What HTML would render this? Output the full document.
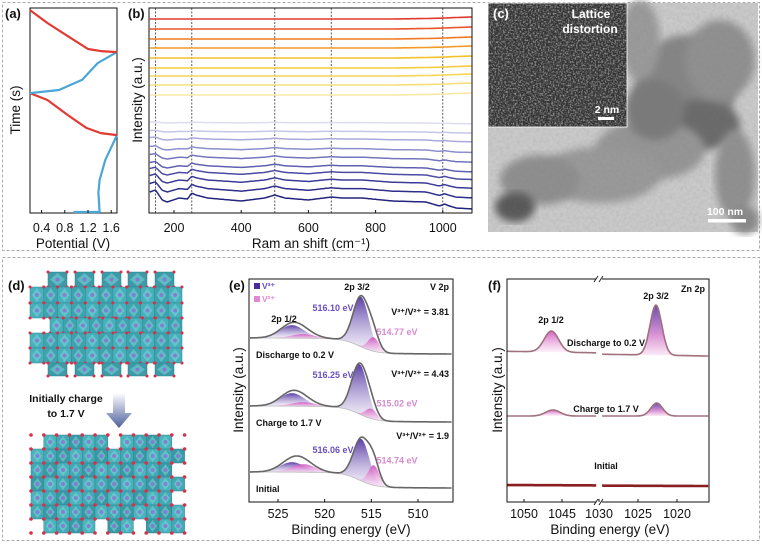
<!DOCTYPE html>
<html><head><meta charset="utf-8">
<style>
html,body{margin:0;padding:0;background:#fff;}
body{width:762px;height:543px;overflow:hidden;font-family:"Liberation Sans",Arial,sans-serif;}
svg text{font-family:"Liberation Sans",Arial,sans-serif;}
</style></head>
<body>
<svg id="fig" width="762" height="543" viewBox="0 0 762 543" xmlns="http://www.w3.org/2000/svg">
<defs>
<linearGradient id="gPurple" x1="0" y1="0" x2="0" y2="1"><stop offset="0" stop-color="#4a2b9c"/><stop offset="1" stop-color="#f3eefa" stop-opacity="0.6"/></linearGradient>
<linearGradient id="gPink" x1="0" y1="0" x2="0" y2="1"><stop offset="0" stop-color="#d04fbe"/><stop offset="1" stop-color="#fbe6f6" stop-opacity="0.6"/></linearGradient>
<linearGradient id="gZn" x1="0" y1="0" x2="0" y2="1"><stop offset="0" stop-color="#5a3ca8"/><stop offset="0.6" stop-color="#d78ad0"/><stop offset="1" stop-color="#fbe9f6"/></linearGradient>
<linearGradient id="gArrow" x1="0" y1="0" x2="0" y2="1"><stop offset="0" stop-color="#ffffff"/><stop offset="1" stop-color="#4d5f9c"/></linearGradient>
<filter id="noiseIn" x="0" y="0" width="100%" height="100%"><feTurbulence type="fractalNoise" baseFrequency="0.6" numOctaves="2" seed="3"/><feColorMatrix type="matrix" values="0 0 0 0 0.85  0 0 0 0 0.85  0 0 0 0 0.85  1.8 0 0 0 -0.75"/></filter>
<filter id="blur3"><feGaussianBlur stdDeviation="4"/></filter>
<filter id="grain" x="0" y="0" width="100%" height="100%"><feTurbulence type="fractalNoise" baseFrequency="0.3" numOctaves="2" seed="7"/><feColorMatrix type="matrix" values="0 0 0 0 0.2  0 0 0 0 0.2  0 0 0 0 0.2  1.2 0 0 0 -0.45"/></filter>
</defs>
<rect x="2.5" y="2.5" width="757" height="248" fill="none" stroke="#aaa" stroke-dasharray="3,2"/>
<rect x="2.5" y="257.5" width="757" height="283" fill="none" stroke="#aaa" stroke-dasharray="3,2"/>
<g id="root"></g>
</svg>
<script>
// ---------- Panel (a) data: galvanostatic profile ----------
const aPot1 = [0.95, 1.40, 1.38, 1.40, 1.50, 1.70];
const aTime1 = [5, 5, 100, 161, 260, 380];
const aPot2 = [1.70, 1.42, 1.17, 0.85, 0.50, 0.20];
const aTime2 = [380, 390, 415, 478, 551, 585];
const aPot3 = [0.20, 0.70, 1.10, 1.37, 1.70];
const aTime3 = [585, 600, 650, 732, 785];
const aPot4 = [1.70, 1.42, 1.20, 0.85, 0.50, 0.20];
const aTime4 = [785, 790, 800, 863, 927, 990];
const aTicks = [0.4, 0.8, 1.2, 1.6];

// ---------- Panel (b) data: Raman spectra ----------
const ramanX = [128, 145, 165, 180, 215, 240, 253, 265, 300, 400, 470, 500, 530, 600, 668, 700, 760, 850, 950, 990, 1005, 1020, 1040, 1090];
const bottomProfile = [10, 12, 2, 0, 4, 3, 9, 7, 4, 1, 4, 7, 4, 2, 5, 4, 4, 1, 0, -4, -2, -4, -6, -7];
const warmProfile = [0, 0, 0, 0, 0, 0, 0, 0, 0, 0, 0, 0, 0, 0, 0, 0, 0, 0, 0.5, 0.8, 1, 1.2, 1.5, 2];
const warmOffsets = [196, 186, 176, 167, 157, 147, 139, 130, 120];
const warmColors = ["#e03a2f", "#e8552a", "#ef7a25", "#f29a2a", "#f5c02e", "#f5cc40", "#f6d658", "#f7df78", "#f8e9a6"];
const blueOffsets = [92, 83, 75, 65, 56, 47, 40, 32, 23, 13];
const blueScales = [0.1, 0.15, 0.25, 0.35, 0.45, 0.55, 0.65, 0.75, 0.85, 1.0];
const blueColors = ["#dcdcf2", "#c6c6ea", "#a9a9dc", "#8e8ecd", "#7575be", "#6060b1", "#4b4ba4", "#3b3b97", "#2f2f8b", "#24247e"];
const ramanLines = [145, 253, 500, 668, 1000];
const bTicks = [200, 400, 600, 800, 1000];

// ---------- Panel (e) data: V 2p XPS ----------
const eLabels = ["Discharge to 0.2 V", "Charge to 1.7 V", "Initial"];
const eBase = [148, 80, 14];
const eStep = [15, 15, 15];
const eV3pos = [516.10, 516.25, 516.06];
const eV3h = [50, 50, 42];
const eV2pos = [514.77, 515.02, 514.74];
const eV2h = [14, 10, 20];
const eP12h = [13, 13, 10];
const eP12v2h = [4, 4, 8];
const eRatio = ["3.81", "4.43", "1.9"];
const eTicks = [525, 520, 515, 510];

// ---------- Panel (f) data: Zn 2p XPS ----------
const fLabels = ["Discharge to 0.2 V", "Charge to 1.7 V", "Initial"];
const fBaseL = [151, 86, 17];
const fBaseR = [146, 86, 16];
const fP32pos = [1022.7, 1022.6, 1022.7];
const fP32h = [50, 13, 0];
const fP12pos = [1046.4, 1046.2, 1046.4];
const fP12h = [21, 6, 0];
const fTicks = [1050, 1045, 1030, 1025, 1020];

const NS = "http://www.w3.org/2000/svg";
const root = document.getElementById("root");
function mk(tag, attrs, parent) {
  const el = document.createElementNS(NS, tag);
  for (const k in attrs) el.setAttribute(k, attrs[k]);
  (parent || root).appendChild(el);
  return el;
}
function txt(x, y, s, size, opts, parent) {
  const o = Object.assign({x: x, y: y, "font-size": size, fill: "#111", "text-anchor": "middle"}, opts || {});
  const t = mk("text", o, parent);
  t.textContent = s;
  return t;
}
function interp(xs, ys, x) {
  if (x <= xs[0]) return ys[0];
  for (let i = 1; i < xs.length; i++) if (x <= xs[i]) { const f = (x - xs[i-1]) / (xs[i] - xs[i-1]); return ys[i-1] + f * (ys[i] - ys[i-1]); }
  return ys[ys.length - 1];
}
function gauss(x, c, h, s) { return h * Math.exp(-0.5 * ((x - c) / s) * ((x - c) / s)); }

// ================= Panel (a) =================
const xA = p => 30 + (p - 0.2) * 58;
const yA = t => 213 - t * 0.205;
let el;
el = txt(5, 18, "(a)", 13, {"font-weight": "bold", "text-anchor": "start"});


el = mk("rect", {x: 30, y: 8, width: 87, height: 205, fill: "none", stroke: "#111", "stroke-width": 1});


[[aPot1, aTime1, "#4aa6d6"], [aPot2, aTime2, "#e03a33"], [aPot3, aTime3, "#4aa6d6"], [aPot4, aTime4, "#e03a33"]].forEach((s, i) => {
  const d = s[0].map((p, j) => (j ? "L" : "M") + xA(p).toFixed(1) + "," + yA(s[1][j]).toFixed(1)).join("");
  el = mk("path", {d: d, fill: "none", stroke: s[2], "stroke-width": 2.2, "stroke-linejoin": "round"});
  
  
});
aTicks.forEach(v => {
  mk("line", {x1: xA(v), x2: xA(v), y1: 213, y2: 210, stroke: "#111"});
  el = txt(xA(v), 232, v.toFixed(1), 12.5);
  
  
});
el = txt(73, 248, "Potential (V)", 13.5);


el = txt(0, 0, "Time (s)", 13.5, {transform: "translate(20,110) rotate(-90)"});



// ================= Panel (b) =================
const xB = w => 174 + (w - 200) * 0.336;
const yB = v => 215 - v;
el = txt(128, 18, "(b)", 13, {"font-weight": "bold", "text-anchor": "start"});


ramanLines.forEach(w => {
  el = mk("line", {x1: xB(w), x2: xB(w), y1: 8, y2: 213, stroke: "#333", "stroke-width": 0.8, "stroke-dasharray": "2,1.5"});
  
  
});
function ramanPath(off, prof, sc) {
  let d = "";
  for (let w = 128; w <= 1090; w += 4) {
    const v = off + sc * interp(ramanX, prof, w);
    d += (w === 128 ? "M" : "L") + xB(w).toFixed(1) + "," + yB(v).toFixed(1);
  }
  return d;
}
warmOffsets.forEach((o, i) => {
  el = mk("path", {d: ramanPath(o, warmProfile, 1), fill: "none", stroke: warmColors[i], "stroke-width": 1.6});
  
  
});
blueOffsets.forEach((o, i) => {
  el = mk("path", {d: ramanPath(o, bottomProfile, blueScales[i]), fill: "none", stroke: blueColors[i], "stroke-width": 1.5});
  
  
});
el = mk("rect", {x: 149, y: 8, width: 323, height: 205, fill: "none", stroke: "#111", "stroke-width": 1});


bTicks.forEach(v => {
  mk("line", {x1: xB(v), x2: xB(v), y1: 213, y2: 210, stroke: "#111"});
  el = txt(xB(v), 232, String(v), 12.5);
  
  
});
el = txt(311, 248, "Ram an shift (cm\u207B\u00B9)", 13.5);


el = txt(0, 0, "Intensity (a.u.)", 13.5, {transform: "translate(142,100) rotate(-90)"});



// ================= Panel (c) TEM image =================
const gc = mk("g", {});


mk("rect", {x: 488, y: 3, width: 270, height: 229, fill: "#c9c9c9"}, gc);
const blobs = [
  [685, 90, 50, 55, "#858585"], [700, 125, 40, 25, "#6a6a6a"], [720, 60, 35, 40, "#909090"],
  [650, 150, 55, 30, "#959595"], [600, 175, 60, 28, "#999999"], [540, 180, 40, 25, "#8e8e8e"],
  [515, 207, 20, 15, "#585858"], [735, 175, 20, 45, "#909090"], [745, 220, 14, 14, "#888"],
  [640, 40, 20, 40, "#9a9a9a"], [655, 110, 30, 30, "#7a7a7a"]];
blobs.forEach(b => mk("ellipse", {cx: b[0], cy: b[1], rx: b[2], ry: b[3], fill: b[4], filter: "url(#blur3)"}, gc));
mk("rect", {x: 488, y: 3, width: 270, height: 229, fill: "#000", filter: "url(#grain)", opacity: 0.25}, gc);
mk("rect", {x: 488, y: 3, width: 139, height: 124, fill: "#333", stroke: "#fff", "stroke-width": 0.8}, gc);
mk("rect", {x: 488, y: 3, width: 139, height: 124, fill: "#fff", filter: "url(#noiseIn)", opacity: 0.8}, gc);
el = txt(493, 18, "(c)", 13, {"font-weight": "bold", "text-anchor": "start", fill: "#fff"});


el = txt(591, 18, "Lattice", 12, {"font-weight": "bold", fill: "#fff"});


el = txt(590, 33, "distortion", 12, {"font-weight": "bold", fill: "#fff"});


el = txt(607, 113, "2 nm", 10.5, {"font-weight": "bold", fill: "#fff"});


el = mk("rect", {x: 598, y: 117, width: 16, height: 3, fill: "#fff"});


el = txt(725, 215, "100 nm", 10.5, {"font-weight": "bold", fill: "#fff"});


el = mk("rect", {x: 708, y: 219, width: 38, height: 3.5, fill: "#fff"});



// ================= Panel (d) structures =================
el = txt(8, 290, "(d)", 13, {"font-weight": "bold", "text-anchor": "start"});


const gd = mk("g", {});


function tile(g, x, y, w, h, shade) {
  mk("rect", {x: x, y: y, width: w, height: h, fill: shade, stroke: "#2d8b96", "stroke-width": 0.5}, g);
  mk("path", {d: `M${x + w/2},${y + 1}L${x + w - 2},${y + h/2}L${x + w/2},${y + h - 1}L${x + 2},${y + h/2}Z`, fill: "#7fd3dc", opacity: 0.55}, g);
  mk("circle", {cx: x + w/2, cy: y + h/2, r: 2, fill: "#8a6fd0", opacity: 0.8}, g);
}
function dots(g, x, y, w, h) {
  [[x, y], [x + w, y], [x, y + h], [x + w, y + h]].forEach(p => mk("circle", {cx: p[0], cy: p[1], r: 1.5, fill: "#d7304b"}, g));
}
[48, 75, 102, 128, 155].forEach(x => { tile(gd, x, 272, 19, 15, "#3d9aa6"); dots(gd, x, 272, 19, 15); });
const rowsTop = [[30, 287, 152, 16], [30, 303, 152, 15], [50, 318, 132, 15], [30, 333, 152, 15], [30, 348, 152, 15]];
rowsTop.forEach(r => { const n = Math.round(r[2] / 13.8); const w = r[2] / n; for (let i = 0; i < n; i++) { tile(gd, r[0] + i * w, r[1], w, r[3], i % 2 ? "#3ea3ae" : "#48b0ba"); dots(gd, r[0] + i * w, r[1], w, r[3]); } });
[48, 75, 102, 128, 155].forEach(x => { tile(gd, x, 363, 19, 13, "#3d9aa6"); dots(gd, x, 363, 19, 13); });
el = txt(66, 402, "Initially charge", 10.5, {"font-weight": "bold"});


el = txt(66, 417, "to 1.7 V", 10.5, {"font-weight": "bold"});


el = mk("path", {d: "M113,393L125,393L125,413L132,413L119,428L106,413L113,413Z", fill: "url(#gArrow)"});


const gd2 = mk("g", {});


for (let r = 0; r < 7; r++) for (let c = 0; c < 12; c++) {
  const x = 31 + c * 12.8, y = 435 + r * 14;
  if ((r === 0 && (c === 0 || c === 6 || c === 11)) || (r === 2 && c === 11) || (r === 4 && c === 11) || (r === 6 && (c === 0 || c === 5 || c === 8))) continue;
  tile(gd2, x, y, 12.8, 14, (r + c) % 3 === 0 ? "#3a98a4" : ((r + c) % 3 === 1 ? "#4cb3bd" : "#43a8b3"));
}
for (let r = 0; r <= 7; r++) for (let c = 0; c <= 12; c++) mk("circle", {cx: 31 + c * 12.8, cy: 435 + r * 14, r: 1.8, fill: "#d7304b"}, gd2);

// ================= Panel (e) =================
const xE = e => 278 + (525 - e) * 9.333;
const yE = v => 502 - v;
el = txt(229, 290, "(e)", 13, {"font-weight": "bold", "text-anchor": "start"});


function bgE(i, e) { return eBase[i] + eStep[i] / (1 + Math.exp(-(e - 516.3) / 0.9)) + (e - 506) * 0.05; }
eBase.forEach((b, i) => {
  const comps = [[eV3pos[i], eV3h[i], 0.85, "url(#gPurple)"], [523.5, eP12h[i], 1.3, "url(#gPurple)"], [522.3, eP12v2h[i], 1.3, "url(#gPink)"], [eV2pos[i], eV2h[i], 0.6, "url(#gPink)"]];
  comps.forEach((c, k) => {
    let up = "", dn = "";
    const lo = c[0] - 4, hi = c[0] + 4;
    for (let e = hi; e >= lo; e -= 0.1) up += (up ? "L" : "M") + xE(e).toFixed(1) + "," + yE(bgE(i, e) + gauss(e, c[0], c[1], c[2])).toFixed(1);
    for (let e = lo; e <= hi; e += 0.1) dn += "L" + xE(e).toFixed(1) + "," + yE(bgE(i, e)).toFixed(1);
    el = mk("path", {d: up + dn + "Z", fill: c[3], opacity: 0.9});
    
    
  });
  let d = "", bgd = "";
  for (let e = 528; e >= 506.3; e -= 0.1) {
    let v = bgE(i, e);
    comps.forEach(c => v += gauss(e, c[0], c[1], c[2]));
    d += (d ? "L" : "M") + xE(e).toFixed(1) + "," + yE(v).toFixed(1);
    bgd += (bgd ? "L" : "M") + xE(e).toFixed(1) + "," + yE(bgE(i, e)).toFixed(1);
  }
  el = mk("path", {d: bgd, fill: "none", stroke: "#bbb", "stroke-width": 0.8});
  
  
  el = mk("path", {d: d, fill: "none", stroke: "#666", "stroke-width": 1.6});
  
  
  el = txt(256, yE(b) + 4, eLabels[i], 9, {"font-weight": "bold", "text-anchor": "start"});
  
  
  el = txt(333, yE(bgE(i, eV3pos[i]) + eV3h[i]) + 14, eV3pos[i].toFixed(2) + " eV", 9, {"font-weight": "bold", fill: "#6a4fc4"});
  
  
  el = txt(397, yE(bgE(i, eV2pos[i]) + eV2h[i]) - 2, eV2pos[i].toFixed(2) + " eV", 9, {"font-weight": "bold", fill: "#d98ad0"});
  
  
  el = txt(449, [315, 377, 439][i], "V\u00B3\u207A/V\u00B2\u207A = " + eRatio[i], 9, {"font-weight": "bold", "text-anchor": "end"});
  
  
});
el = mk("rect", {x: 249, y: 279, width: 204, height: 223, fill: "none", stroke: "#111", "stroke-width": 1});


eTicks.forEach(v => {
  mk("line", {x1: xE(v), x2: xE(v), y1: 502, y2: 499, stroke: "#111"});
  el = txt(xE(v), 518, String(v), 12.5);
  
  
});
el = txt(351, 534, "Binding energy (eV)", 13.5);


el = txt(0, 0, "Intensity (a.u.)", 13.5, {transform: "translate(243,390) rotate(-90)"});


el = mk("rect", {x: 254, y: 283, width: 6, height: 6, fill: "#4a2b9c"});


el = txt(262, 289, "V\u00B3\u207A", 8.5, {"font-weight": "bold", fill: "#6a4fc4", "text-anchor": "start"});


el = mk("rect", {x: 254, y: 296, width: 6, height: 6, fill: "#e08ad6"});


el = txt(262, 302, "V\u00B2\u207A", 8.5, {"font-weight": "bold", fill: "#e08ad6", "text-anchor": "start"});


el = txt(357, 290, "2p 3/2", 9, {"font-weight": "bold"});


el = txt(449, 290, "V 2p", 9, {"font-weight": "bold", "text-anchor": "end"});


el = txt(284, 322, "2p 1/2", 9, {"font-weight": "bold"});



// ================= Panel (f) =================
const xF = e => e >= 1035 ? 524 + (1050 - e) * 7.6 : 599 + (1030 - e) * 7.8;
const yF = v => 502 - v;
el = txt(488, 290, "(f)", 13, {"font-weight": "bold", "text-anchor": "start"});


fBaseL.forEach((b, i) => {
  const base = e => fBaseR[i] + (fBaseL[i] - fBaseR[i]) * (e - 1016) / 38.5;
  [[1052.2, 1040.5], [1029.6, 1016]].forEach(seg => {
    const comps = [[fP32pos[i], fP32h[i], 0.75], [fP12pos[i], fP12h[i], 0.95]];
    comps.forEach(c => {
      if (c[1] <= 0 || c[0] > seg[0] || c[0] < seg[1]) return;
      let up = "", dn = "";
      for (let e = c[0] + 4; e >= c[0] - 4; e -= 0.05) up += (up ? "L" : "M") + xF(e).toFixed(1) + "," + yF(base(e) + gauss(e, c[0], c[1], c[2])).toFixed(1);
      for (let e = c[0] - 4; e <= c[0] + 4; e += 0.05) dn += "L" + xF(e).toFixed(1) + "," + yF(base(e)).toFixed(1);
      el = mk("path", {d: up + dn + "Z", fill: c[0] < 1030 ? "url(#gZn)" : "url(#gPink)", opacity: 0.9});
      
      
    });
    let d = "";
    for (let e = seg[0]; e >= seg[1]; e -= 0.05) {
      let v = base(e);
      comps.forEach(c => v += gauss(e, c[0], c[1], c[2]));
      d += (d ? "L" : "M") + xF(e).toFixed(1) + "," + yF(v).toFixed(1);
    }
    el = mk("path", {d: d, fill: "none", stroke: i === 2 ? "#8a1f22" : "#a0707c", "stroke-width": i === 2 ? 2.6 : 1.6});
    
    
  });
  el = txt(606, [346, 412, 469][i], fLabels[i], 9, {"font-weight": "bold"});
  
  
});
el = mk("rect", {x: 507, y: 279, width: 202, height: 223, fill: "none", stroke: "#111", "stroke-width": 1});


[279, 502].forEach(y => {
  mk("rect", {x: 596, y: y - 3, width: 6, height: 6, fill: "#fff"});
  el = mk("path", {d: `M594,${y + 3}L598,${y - 3}M599,${y + 3}L603,${y - 3}`, stroke: "#111", "stroke-width": 0.9});
  
  
});
const fTickX = v => v === 1030 ? 599 : xF(v);
fTicks.forEach(v => {
  mk("line", {x1: fTickX(v), x2: fTickX(v), y1: 502, y2: 499, stroke: "#111"});
  el = txt(fTickX(v), 518, String(v), 12.5);
  
  
});
el = txt(610, 534, "Binding energy (eV)", 13.5);


el = txt(0, 0, "Intensity (a.u.)", 13.5, {transform: "translate(502,390) rotate(-90)"});


el = txt(705, 292, "Zn 2p", 9, {"font-weight": "bold", "text-anchor": "end"});


el = txt(656, 299, "2p 3/2", 9, {"font-weight": "bold"});


el = txt(551, 323, "2p 1/2", 9, {"font-weight": "bold"});


</script>
</body></html>
